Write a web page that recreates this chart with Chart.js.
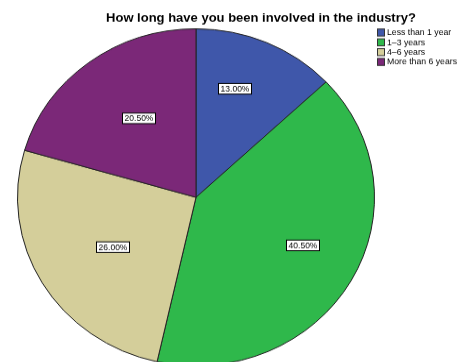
<!DOCTYPE html>
<html>
<head>
<meta charset="utf-8">
<script src="https://cdn.jsdelivr.net/npm/chart.js@4"></script>
<style>
  html, body { margin: 0; padding: 0; background: #fff; }
  #wrap { width: 460px; height: 362px; overflow: hidden; position: relative; }
  #chart { position: absolute; left: 0; top: 0; transform-origin: 0 0; transform: scaleY(0.944); }
</style>
</head>
<body>
<div id="wrap"><canvas id="chart" width="460" height="400"></canvas></div>
<script>
const chartTitle = 'How long have you been involved in the industry?';
const categories = ['Less than 1 year', '1\u20133 years', '4\u20136 years', 'More than 6 years'];
const percentages = [13.0, 40.5, 26.0, 20.5];
const sliceColors = ['#3f57aa', '#2fb84b', '#d4ce9a', '#7b2878'];

// where each boxed label sits inside its slice: fraction of the radius and a small turn (degrees)
const labelPlacement = [
  { r: 0.68, turn: -4.7 },
  { r: 0.66, turn: -4.1 },
  { r: 0.555, turn: -1.6 },
  { r: 0.57, turn: 2.2 }
];

const FONT = '"Liberation Sans", Arial, sans-serif';

// Title, legend and boxed percentage labels drawn over the pie
const overlay = {
  id: 'overlay',
  afterDraw(chart) {
    const ctx = chart.ctx;
    const sy = 1 / 0.944;
    ctx.save();

    // title
    ctx.fillStyle = '#000';
    ctx.font = 'bold 13px ' + FONT;
    ctx.textAlign = 'center';
    ctx.textBaseline = 'alphabetic';
    ctx.fillText(chartTitle, 261, 21.5 * sy);

    // legend
    ctx.font = '8.7px ' + FONT;
    ctx.textAlign = 'left';
    ctx.textBaseline = 'middle';
    categories.forEach((c, i) => {
      const cy = (32.5 + i * 9.8) * sy;
      ctx.fillStyle = sliceColors[i];
      ctx.fillRect(377.5, cy - 3.5 * sy, 7, 7 * sy);
      ctx.strokeStyle = '#333';
      ctx.lineWidth = 1;
      ctx.strokeRect(377.5, cy - 3.5 * sy, 7, 7 * sy);
      ctx.fillStyle = '#000';
      ctx.fillText(c, 387, cy + 0.5);
    });

    // value labels
    const meta = chart.getDatasetMeta(0);
    ctx.font = '8.5px ' + FONT;
    ctx.textAlign = 'center';
    meta.data.forEach((arc, i) => {
      const p = arc.getProps(['x', 'y', 'startAngle', 'endAngle', 'outerRadius'], true);
      const place = labelPlacement[i];
      const mid = (p.startAngle + p.endAngle) / 2 + place.turn * Math.PI / 180;
      const r = p.outerRadius * place.r;
      const x = p.x + Math.cos(mid) * r;
      const y = p.y + Math.sin(mid) * r;
      const txt = percentages[i].toFixed(2) + '%';
      const w = 33, h = 11.2;
      const bx = Math.round(x - w / 2) + 0.5;
      ctx.fillStyle = '#fff';
      ctx.fillRect(bx, y - h / 2, w, h);
      ctx.strokeStyle = '#000';
      ctx.lineWidth = 1;
      ctx.strokeRect(bx, y - h / 2, w, h);
      ctx.fillStyle = '#000';
      ctx.fillText(txt, bx + w / 2, y + 0.5);
    });
    ctx.restore();
  }
};

new Chart(document.getElementById('chart'), {
  type: 'pie',
  data: {
    labels: categories,
    datasets: [{
      data: percentages,
      backgroundColor: sliceColors,
      borderColor: '#222',
      borderWidth: 1
    }]
  },
  options: {
    responsive: false,
    animation: false,
    layout: { padding: { left: 17, right: 85, top: 30, bottom: 12 } },
    plugins: {
      legend: { display: false },
      title: { display: false },
      tooltip: { enabled: false }
    }
  },
  plugins: [overlay]
});
</script>
</body>
</html>
